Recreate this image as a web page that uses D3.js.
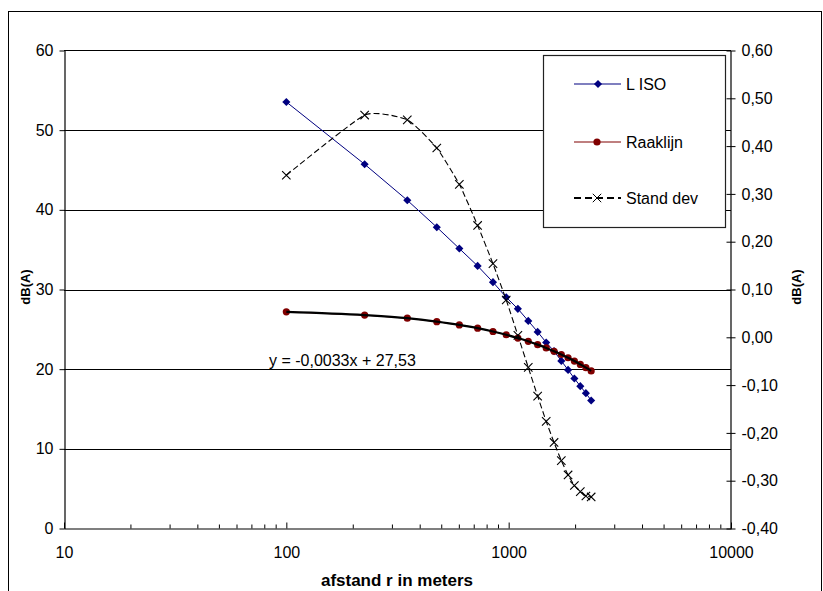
<!DOCTYPE html>
<html>
<head>
<meta charset="utf-8">
<script src="https://cdn.jsdelivr.net/npm/d3@7"></script>
<style>
  body { margin: 0; background: #fff; }
  svg { display: block; font-family: "Liberation Sans", Arial, sans-serif; }
</style>
</head>
<body>
<svg id="chart" width="823" height="591"></svg>
<script>
// afstand r (m)
const distance = [100, 225, 350, 475, 600, 725, 850, 975, 1100, 1225, 1350, 1475, 1600, 1725, 1850, 1975, 2100, 2225, 2350];
const lIso = [53.54, 45.72, 41.2, 37.82, 35.14, 32.96, 30.92, 29.03, 27.57, 26.06, 24.68, 23.35, 22.26, 21.04, 19.91, 18.83, 17.87, 16.99, 16.07];
const raaklijn = [27.2, 26.79, 26.4, 25.96, 25.55, 25.15, 24.73, 24.32, 23.9, 23.5, 23.08, 22.67, 22.25, 21.84, 21.43, 21.02, 20.6, 20.19, 19.78];
const standDev = [0.339, 0.465, 0.455, 0.396, 0.32, 0.234, 0.154, 0.078, 0.004, -0.063, -0.123, -0.176, -0.22, -0.258, -0.288, -0.31, -0.323, -0.332, -0.334];

const xTicks = [10, 100, 1000, 10000];
const leftTicks = [0, 10, 20, 30, 40, 50, 60];
const rightTicks = [-0.4, -0.3, -0.2, -0.1, 0, 0.1, 0.2, 0.3, 0.4, 0.5, 0.6];
const legendNames = ["L ISO", "Raaklijn", "Stand dev"];
const equation = "y = -0,0033x + 27,53";

let svg = d3.select("#chart");

let plotLeft = 64, plotRight = 731, plotTop = 50.5, plotBottom = 528.5;

let x = d3.scaleLog().domain([10, 10000]).range([plotLeft, plotRight]);
let yL = d3.scaleLinear().domain([0, 60]).range([plotBottom, plotTop]);
let yR = d3.scaleLinear().domain([-0.4, 0.6]).range([plotBottom, plotTop]);

// outer frame
svg.append("rect")
  .attr("x", 8.5).attr("y", 11.5)
  .attr("width", 813).attr("height", 600)
  .attr("fill", "none").attr("stroke", "#000").attr("stroke-width", 1);

// gridlines
svg.append("g")
  .selectAll("line")
  .data(leftTicks.filter(d => d > 0 && d < 60))
  .enter().append("line")
  .attr("x1", plotLeft).attr("x2", plotRight)
  .attr("y1", d => Math.round(yL(d)) + 0.5)
  .attr("y2", d => Math.round(yL(d)) + 0.5)
  .attr("stroke", "#000").attr("stroke-width", 1);

// plot frame top line
svg.append("line")
  .attr("x1", plotLeft).attr("x2", plotRight)
  .attr("y1", plotTop).attr("y2", plotTop)
  .attr("stroke", "#000");

// left axis
svg.append("g")
  .attr("transform", "translate(" + (plotLeft + 0.5) + ",0)")
  .call(d3.axisLeft(yL).tickValues(leftTicks).tickSize(5).tickSizeOuter(0).tickPadding(6)
    .tickFormat(d => d));
// right axis
let rightAxis = svg.append("g")
  .attr("transform", "translate(" + (plotRight - 0.5) + ",0)")
  .call(d3.axisRight(yR).tickValues(rightTicks).tickSize(5).tickSizeOuter(0).tickPadding(6)
    .tickFormat(d => d.toFixed(2).replace(".", ",")));
rightAxis.selectAll(".tick line").attr("x1", -4);

// bottom axis with log minor ticks
let minor = [];
for (let p = 10; p < 10000; p *= 10) {
  for (let k = 2; k <= 9; k++) minor.push(p * k);
}
let bottomAxis = svg.append("g")
  .attr("transform", "translate(0," + plotBottom + ")")
  .call(d3.axisBottom(x).tickValues(xTicks).tickSize(-6).tickSizeOuter(0).tickPadding(18)
    .tickFormat(d => d));
bottomAxis.append("g")
  .selectAll("line")
  .data(minor)
  .enter().append("line")
  .attr("x1", d => x(d)).attr("x2", d => x(d))
  .attr("y1", 0).attr("y2", -4)
  .attr("stroke", "#000");

svg.selectAll(".domain").attr("stroke", "#000").attr("stroke-width", 1.2);
svg.selectAll(".tick text").attr("font-size", 16).attr("fill", "#000")
  .attr("font-family", "Liberation Sans, Arial, sans-serif");

// axis titles
svg.append("text")
  .attr("transform", "translate(30,287) rotate(-90)")
  .attr("text-anchor", "middle")
  .attr("font-size", 13).attr("font-weight", "bold")
  .text("dB(A)");
svg.append("text")
  .attr("transform", "translate(801,287) rotate(-90)")
  .attr("text-anchor", "middle")
  .attr("font-size", 13).attr("font-weight", "bold")
  .text("dB(A)");
svg.append("text")
  .attr("x", 397).attr("y", 586)
  .attr("text-anchor", "middle")
  .attr("font-size", 17).attr("font-weight", "bold")
  .text("afstand r in meters");

// data
let pts = (ys) => distance.map((d, i) => [d, ys[i]]);

// L ISO
let lineL = d3.line().x(d => x(d[0])).y(d => yL(d[1]));
let diamond = d3.symbol(d3.symbolDiamond2, 42);
svg.append("path")
  .datum(pts(lIso))
  .attr("d", lineL)
  .attr("fill", "none").attr("stroke", "#000080").attr("stroke-width", 1);
svg.append("g")
  .selectAll("path")
  .data(pts(lIso))
  .enter().append("path")
  .attr("d", diamond)
  .attr("transform", d => "translate(" + x(d[0]) + "," + yL(d[1]) + ")")
  .attr("fill", "#000080");

// Raaklijn
svg.append("path")
  .datum(pts(raaklijn))
  .attr("d", lineL)
  .attr("fill", "none").attr("stroke", "#800000").attr("stroke-width", 1);
svg.append("g")
  .selectAll("circle")
  .data(pts(raaklijn))
  .enter().append("circle")
  .attr("cx", d => x(d[0])).attr("cy", d => yL(d[1]))
  .attr("r", 3.6)
  .attr("fill", "#800000");

// linear trendline over Raaklijn
svg.append("path")
  .datum(pts(raaklijn))
  .attr("d", d3.line().x(d => x(d[0])).y(d => yL(d[1])).curve(d3.curveMonotoneX))
  .attr("fill", "none").attr("stroke", "#000").attr("stroke-width", 2.2);

svg.append("text")
  .attr("x", 269).attr("y", 366)
  .attr("font-size", 16)
  .text(equation);

// Stand dev (right axis, smoothed)
let lineR = d3.line().x(d => x(d[0])).y(d => yR(d[1])).curve(d3.curveCardinal.tension(0.5));
svg.append("path")
  .datum(pts(standDev))
  .attr("d", lineR)
  .attr("fill", "none").attr("stroke", "#000").attr("stroke-width", 1.1)
  .attr("stroke-dasharray", "6,3");
let cross = d3.symbol(d3.symbolX, 48);
svg.append("g")
  .selectAll("path")
  .data(pts(standDev))
  .enter().append("path")
  .attr("d", cross)
  .attr("transform", d => "translate(" + x(d[0]) + "," + yR(d[1]) + ")")
  .attr("fill", "none").attr("stroke", "#000").attr("stroke-width", 1.1);

// legend
let legend = svg.append("g");
legend.append("rect")
  .attr("x", 543.5).attr("y", 55.5)
  .attr("width", 182).attr("height", 172)
  .attr("fill", "#fff").attr("stroke", "#222").attr("stroke-width", 1.2);
let legY = [84, 142, 198];
let item = legend.selectAll("g.item")
  .data(legendNames)
  .enter().append("g")
  .attr("class", "item")
  .attr("transform", (d, i) => "translate(0," + legY[i] + ")");
item.append("line")
  .attr("x1", 574).attr("x2", 621)
  .attr("y1", 0).attr("y2", 0)
  .attr("stroke", (d, i) => ["#000080", "#800000", "#000"][i])
  .attr("stroke-width", (d, i) => i == 2 ? 2 : 1.2)
  .attr("stroke-dasharray", (d, i) => i == 2 ? "7,4" : null);
item.filter((d, i) => i == 0).append("path")
  .attr("d", diamond)
  .attr("transform", "translate(598,0)")
  .attr("fill", "#000080");
item.filter((d, i) => i == 1).append("circle")
  .attr("cx", 597).attr("cy", 0).attr("r", 3.6)
  .attr("fill", "#800000");
item.filter((d, i) => i == 2).append("path")
  .attr("d", cross)
  .attr("transform", "translate(597,0)")
  .attr("fill", "none").attr("stroke", "#000");
item.append("text")
  .attr("x", 626).attr("y", 0).attr("dy", "0.35em")
  .attr("font-size", 16)
  .text(d => d);
</script>
</body>
</html>
